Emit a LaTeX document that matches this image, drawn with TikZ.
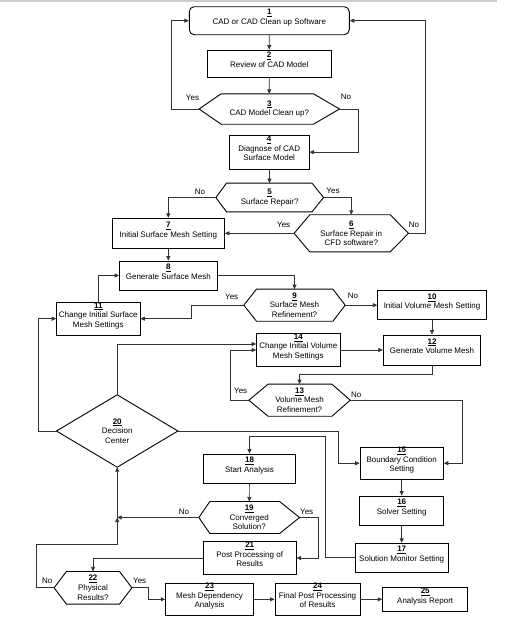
\documentclass[tikz,border=0pt]{standalone}
\usepackage{fontspec}
\setmainfont{Liberation Sans}
\usetikzlibrary{arrows.meta}
\newcommand\hexdraw[3]{\draw[boxline] (#1.west) -- ([xshift=#2pt]#1.north west) -- ([xshift=-#3pt]#1.north east) -- (#1.east) -- ([xshift=-#3pt]#1.south east) -- ([xshift=#2pt]#1.south west) -- cycle;}
\newcommand\num[1]{\underline{\textbf{#1}}}
\newcommand\lift{\\[-2pt]\mbox{}}
\begin{document}
\begin{tikzpicture}[x=1pt,y=-1pt,
  txt/.style={font=\fontsize{8}{9.6}\selectfont, align=center, inner sep=0pt},
  box/.style={txt, draw=black, line width=0.9pt},
  hexn/.style={txt},
  boxline/.style={draw=black, line width=0.9pt},
  conn/.style={draw=black!80, line width=0.7pt, -{Triangle[length=4.5pt,width=4pt]}},
  lab/.style={font=\fontsize{8}{9.6}\selectfont, inner sep=0pt}]
\fill[white] (0,0) rectangle (530,640);
\useasboundingbox (0,0) rectangle (530,640);
\draw[gray!40, line width=1.5pt] (0,1) -- (497,1);

% nodes
\node[box, rounded corners=5pt, minimum width=160pt, minimum height=28pt] (n1) at (269.3,20.7) {\num{1}\\CAD or CAD Clean up Software\lift};
\node[box, minimum width=123.7pt, minimum height=27.3pt] (n2) at (269.2,63.7) {\num{2}\\Review of CAD Model\lift};
\node[hexn, minimum width=140pt, minimum height=30pt] (h3) at (269.3,109) {\num{3}\\CAD Model Clean up?};
\hexdraw{h3}{22}{26}
\node[box, minimum width=79.7pt, minimum height=34.3pt] (n4) at (269.2,152.2) {\num{4}\\Diagnose of CAD\\Surface Model\lift};
\node[hexn, minimum width=107.3pt, minimum height=28.4pt] (h5) at (269.7,197.5) {\num{5}\\Surface Repair?};
\hexdraw{h5}{10.7}{11.6}
\node[hexn, minimum width=114pt, minimum height=36.7pt] (h6) at (351.3,233.3) {\num{6}\\Surface Repair in\\CFD software?};
\hexdraw{h6}{15.7}{18.3}
\node[box, minimum width=112.3pt, minimum height=30pt] (n7) at (168.3,233.3) {\num{7}\\Initial Surface Mesh Setting\lift};
\node[box, minimum width=97.7pt, minimum height=29pt] (n8) at (168.3,275.5) {\num{8}\\Generate Surface Mesh\lift};
\node[hexn, minimum width=101pt, minimum height=31.7pt] (h9) at (294.5,305.2) {\num{9}\\Surface Mesh\\Refinement?};
\hexdraw{h9}{12.7}{12.3}
\node[box, minimum width=108.3pt, minimum height=28.6pt] (n10) at (432,305.2) {\num{10}\\Initial Volume Mesh Setting\lift};
\node[box, minimum width=83.3pt, minimum height=32.7pt] (n11) at (98.3,318.7) {\num{11}\\Change Initial Surface\\Mesh Settings\lift};
\node[box, minimum width=97.4pt, minimum height=30pt] (n12) at (432,350) {\num{12}\\Generate Volume Mesh\lift};
\node[hexn, minimum width=101pt, minimum height=31.7pt] (h13) at (299.5,400.2) {\num{13}\\Volume Mesh\\Refinement?};
\hexdraw{h13}{19.3}{18.3}
\node[box, minimum width=83.3pt, minimum height=32pt] (n14) at (298.3,350) {\num{14}\\Change Initial Volume\\Mesh Settings\lift};
\node[box, minimum width=83.3pt, minimum height=31.7pt] (n15) at (401.7,463.2) {\num{15}\\Boundary Condition\\Setting\lift};
\node[box, minimum width=84pt, minimum height=29pt] (n16) at (401.7,510.5) {\num{16}\\Solver Setting\lift};
\node[box, minimum width=92.7pt, minimum height=29pt] (n17) at (401.7,557.8) {\num{17}\\Solution Monitor Setting\lift};
\node[box, minimum width=91.7pt, minimum height=29.3pt] (n18) at (249.5,468.7) {\num{18}\\Start Analysis\lift};
\node[hexn, minimum width=100.3pt, minimum height=31.6pt] (h19) at (249.2,517.5) {\num{19}\\Converged\\Solution?};
\hexdraw{h19}{11}{20}
\node[txt, minimum width=121pt, minimum height=72pt] (d20) at (117.2,431) {\num{20}\\Decision\\Center};
\draw[boxline] (d20.west) -- (d20.north) -- (d20.east) -- (d20.south) -- cycle;
\node[box, minimum width=92.7pt, minimum height=29.4pt] (n21) at (249.7,558) {\num{21}\\Post Processing of\\Results\lift};
\node[hexn, minimum width=77.4pt, minimum height=32.3pt] (h22) at (93,587.8) {\num{22}\\Physical\\Results?};
\hexdraw{h22}{12.4}{12.4}
\node[box, minimum width=87.6pt, minimum height=31.7pt] (n23) at (209.5,599.3) {\num{23}\\Mesh Dependency\\Analysis\lift};
\node[box, minimum width=85pt, minimum height=29pt] (n24) at (317.5,599.3) {\num{24}\\Final Post Processing\\of Results\lift};
\node[box, minimum width=85pt, minimum height=24pt] (n25) at (425.2,599.3) {\num{25}\\Analysis Report\lift};

\coordinate (j) at (117.2,517.5);
\coordinate (k) at (117.2,544.7);

% connectors
\draw[conn] (n1) -- (n2);
\draw[conn] (n2) -- (h3);
\draw[conn] (h3.west) -- ++(-27.6,0) |- (n1.west);
\draw[conn] (h3.east) -- ++(18.4,0) |- (n4.east);
\draw[conn] (n4) -- (h5);
\draw[conn] (h5.west) -| (n7.north);
\draw[conn] (h5.east) -| (h6.north);
\draw[conn] (h6.west) -- (n7.east);
\draw[conn] (h6.east) -- ++(16.7,0) |- (n1.east);
\draw[conn] (n7) -- (n8);
\draw[conn] (n8.east) -| (h9.north);
\draw[conn] (h9.west) -- ++(-52.3,0) |- (n11.east);
\draw[conn] (h9.east) -- (n10.west);
\draw[conn] (n10) -- (n12);
\draw[conn] (n11.north) |- (n8.west);
\draw[conn] (n14.east) -- (n12.west);
\draw[conn] (n12.south) -- ++(0,9.3) -| (h13.north);
\draw[conn] (h13.west) -- ++(-18,0) |- (n14.west);
\draw[conn] (h13.east) -- ++(111.7,0) |- (n15.east);
\draw[conn] (d20.north) |- ([yshift=6pt]n14.west);
\draw[conn] (d20.west) -- ++(-18.4,0) |- (n11.west);
\draw[conn] (d20.east) -- ++(160.6,0) |- (n15.west);
\draw[conn] (n15) -- (n16);
\draw[conn] (n16) -- (n17);
\draw[conn] (n17.west) -- ++(-29.3,0) |- ([yshift=17.3pt]n18.north) -- (n18.north);
\draw[conn] (n18) -- (h19);
\draw[conn] (h19.west) -- (j);
\draw[conn] (j) -- (d20.south);
\draw[conn] (h19.east) -- ++(18.4,0) |- (n21.east);
\draw[conn] (n21.west) -| (h22.north);
\draw[conn] (h22.west) -- ++(-17.6,0) |- (k) -- (j);
\draw[conn] (h22.east) -- ++(16.6,0) |- (n23.west);
\draw[conn] (n23) -- (n24);
\draw[conn] (n24) -- (n25);

% labels
\node[lab] (l3y) at (192.5,98) {Yes};
\node[lab] (l3n) at (346,96.7) {No};
\node[lab] (l5n) at (200,192) {No};
\node[lab] (l5y) at (333,191) {Yes};
\node[lab] (l6y) at (283.7,225) {Yes};
\node[lab] (l6n) at (414,225) {No};
\node[lab] (l9y) at (231.7,297) {Yes};
\node[lab] (l9n) at (353,296) {No};
\node[lab] (l13y) at (240.7,391) {Yes};
\node[lab] (l13n) at (356.3,395) {No};
\node[lab] (l19n) at (184,512) {No};
\node[lab] (l19y) at (306.7,512) {Yes};
\node[lab] (l22n) at (47.3,581) {No};
\node[lab] (l22y) at (139.7,581) {Yes};
\end{tikzpicture}
\end{document}
